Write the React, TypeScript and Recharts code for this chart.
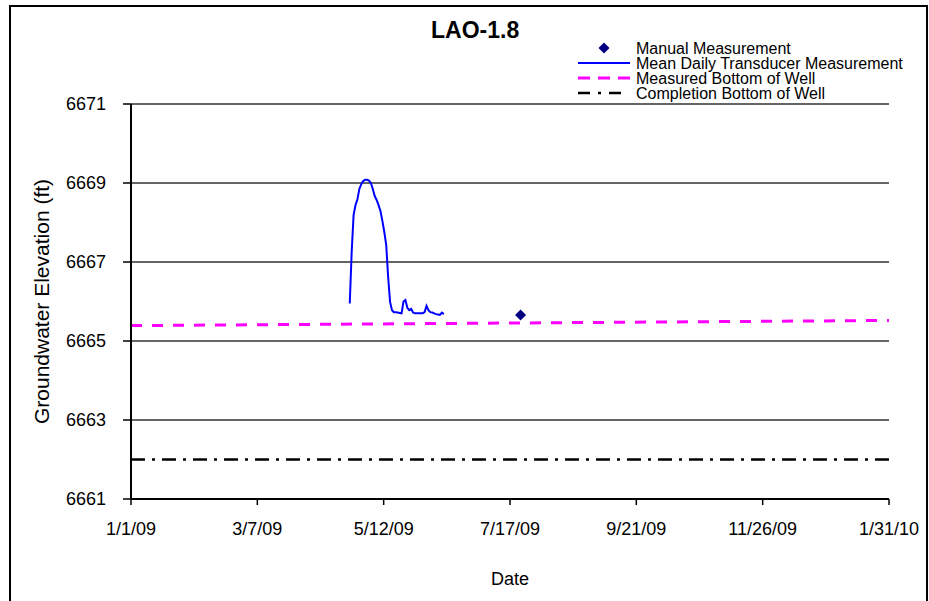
import {
  CartesianGrid,
  ComposedChart,
  Legend,
  Line,
  Scatter,
  XAxis,
  YAxis,
} from 'recharts';

// x values are days since 1/1/09
const xTickDays = [0, 65.83, 131.67, 197.5, 263.33, 329.17, 395];
const xTickLabels = ['1/1/09', '3/7/09', '5/12/09', '7/17/09', '9/21/09', '11/26/09', '1/31/10'];
const yTicks = [6661, 6663, 6665, 6667, 6669, 6671];

// mean daily transducer record, starting 4/25/09
const transducerStartDay = 114;
const transducerValues = [
  6665.95, 6667.26, 6668.19, 6668.44, 6668.59, 6668.85, 6668.97, 6669.05, 6669.08, 6669.08,
  6669.06, 6669.0, 6668.85, 6668.67, 6668.57, 6668.44, 6668.29, 6668.04, 6667.76, 6667.43,
  6666.62, 6665.99, 6665.78, 6665.73, 6665.73, 6665.72, 6665.71, 6665.7, 6666.0, 6666.04,
  6665.84, 6665.78, 6665.81, 6665.72, 6665.7, 6665.7, 6665.7, 6665.7, 6665.7, 6665.73,
  6665.89, 6665.78, 6665.73, 6665.72, 6665.7, 6665.68, 6665.67, 6665.66, 6665.72, 6665.68,
];

const manualDays = [203];
const manualValues = [6665.66];

const bottomDays = [0, 395];
const measuredBottomValues = [6665.39, 6665.52];
const completionBottomValues = [6662.0, 6662.0];

const transducerData = transducerValues.map((value, i) => ({ day: transducerStartDay + i, value }));
const manualData = manualDays.map((day, i) => ({ day, value: manualValues[i] }));
const measuredData = bottomDays.map((day, i) => ({ day, value: measuredBottomValues[i] }));
const completionData = bottomDays.map((day, i) => ({ day, value: completionBottomValues[i] }));

const FONT = 'Arial, "Liberation Sans", sans-serif';

const Diamond = (props: any) => {
  const { cx, cy } = props;
  const r = 5.5;
  return (
    <polygon
      points={`${cx},${cy - r} ${cx + r},${cy} ${cx},${cy + r} ${cx - r},${cy}`}
      fill="#000080"
    />
  );
};

const LegendBox = () => (
  <svg width={350} height={66} style={{ display: 'block', fontFamily: FONT }}>
    <polygon points="29,4.5 34.5,10 29,15.5 23.5,10" fill="#000080" />
    <text x={61} y={10} fontSize={16} dominantBaseline="central">Manual Measurement</text>
    <line x1={3} y1={25} x2={55} y2={25} stroke="#0000FF" strokeWidth={2} />
    <text x={61} y={25} fontSize={16} dominantBaseline="central">Mean Daily Transducer Measurement</text>
    <line x1={3} y1={40} x2={55} y2={40} stroke="#FF00FF" strokeWidth={3} strokeDasharray="12 8" />
    <text x={61} y={40} fontSize={16} dominantBaseline="central">Measured Bottom of Well</text>
    <line x1={3} y1={55} x2={47} y2={55} stroke="#000" strokeWidth={2.5} strokeDasharray="12 8 3 8" />
    <text x={61} y={55} fontSize={16} dominantBaseline="central">Completion Bottom of Well</text>
  </svg>
);

export default function App() {
  return (
    <div
      style={{
        position: 'absolute',
        left: 0,
        top: 0,
        width: 929,
        height: 601,
        overflow: 'hidden',
        background: '#fff',
        fontFamily: FONT,
      }}
    >
      <div
        style={{
          position: 'absolute',
          left: 9,
          top: 5,
          width: 919,
          height: 700,
          border: '2px solid #000',
          boxSizing: 'border-box',
        }}
      />
      <div
        style={{
          position: 'absolute',
          left: 431,
          top: 17,
          fontSize: 23,
          fontWeight: 'bold',
          lineHeight: '26px',
        }}
      >
        LAO-1.8
      </div>
      <ComposedChart
        width={929}
        height={601}
        margin={{ top: 104, right: 40, bottom: 0, left: 31 }}
        style={{ fontFamily: FONT }}
      >
        <CartesianGrid vertical={false} stroke="#333" strokeWidth={1.5} />
        <XAxis
          type="number"
          dataKey="day"
          domain={[0, 395]}
          ticks={xTickDays}
          interval={0}
          tickFormatter={(_v: number, i: number) => xTickLabels[i]}
          height={102}
          tickSize={6}
          tickMargin={17}
          axisLine={{ stroke: '#000', strokeWidth: 2 }}
          tickLine={{ stroke: '#000', strokeWidth: 1.5 }}
          tick={{ fill: '#000', fontSize: 18 }}
          label={{ value: 'Date', position: 'insideBottom', offset: 16, fill: '#000', fontSize: 18 }}
        />
        <YAxis
          type="number"
          dataKey="value"
          domain={[6661, 6671]}
          ticks={yTicks}
          interval={0}
          width={100}
          tickSize={8}
          tickMargin={17}
          axisLine={{ stroke: '#000', strokeWidth: 2 }}
          tickLine={{ stroke: '#000', strokeWidth: 1.5 }}
          tick={{ fill: '#000', fontSize: 18 }}
          label={{
            value: 'Groundwater Elevation (ft)',
            angle: -90,
            position: 'insideLeft',
            offset: 11,
            fill: '#000',
            fontSize: 21,
            style: { textAnchor: 'middle' },
          }}
        />
        <Legend
          layout="horizontal"
          verticalAlign="middle"
          align="center"
          wrapperStyle={{ position: 'absolute', top: 38, left: 575, width: 350, height: 66 }}
          content={() => <LegendBox />}
        />
        <Line
          data={measuredData}
          dataKey="value"
          stroke="#FF00FF"
          strokeWidth={3}
          strokeDasharray="11 10"
          dot={false}
          isAnimationActive={false}
        />
        <Line
          data={completionData}
          dataKey="value"
          stroke="#000"
          strokeWidth={2.5}
          strokeDasharray="14 7 3 7"
          dot={false}
          isAnimationActive={false}
        />
        <Line
          data={transducerData}
          dataKey="value"
          stroke="#0000FF"
          strokeWidth={2}
          dot={false}
          isAnimationActive={false}
        />
        <Scatter data={manualData} dataKey="value" shape={<Diamond />} isAnimationActive={false} />
      </ComposedChart>
    </div>
  );
}
